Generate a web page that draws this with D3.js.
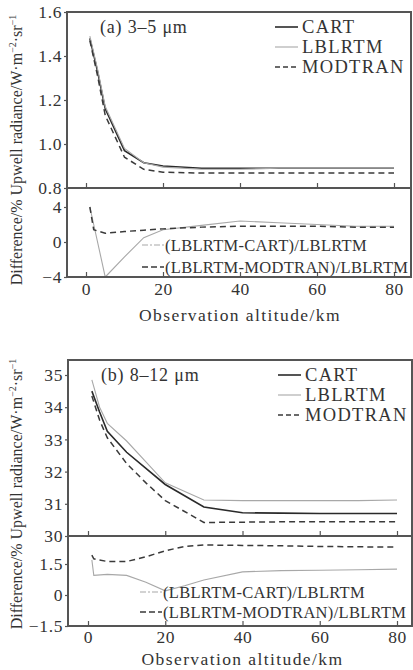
<!DOCTYPE html>
<html><head><meta charset="utf-8">
<script src="https://cdn.jsdelivr.net/npm/d3@7/dist/d3.min.js"></script>
<style>
body{margin:0;background:#fff}
svg{display:block}
text{font-family:"Liberation Serif","Times New Roman",serif;fill:#333}
</style>
</head><body>
<svg id="c" width="413" height="670"></svg>
<script>
// ---------- Data ----------
const seriesNames = ["CART", "LBLRTM", "MODTRAN"];
const diffNames = ["(LBLRTM-CART)/LBLRTM", "(LBLRTM-MODTRAN)/LBLRTM"];

// Panel (a) 3–5 µm, upwell radiance
const altA  = [1, 3, 5, 10, 15, 20, 30, 40, 50, 60, 70, 80];
const cartA = [1.48, 1.33, 1.16, 0.97, 0.915, 0.90, 0.89, 0.89, 0.89, 0.89, 0.89, 0.89];
const lblA  = [1.49, 1.34, 1.17, 0.98, 0.915, 0.895, 0.885, 0.885, 0.89, 0.89, 0.89, 0.89];
const modA  = [1.47, 1.31, 1.13, 0.94, 0.885, 0.872, 0.868, 0.868, 0.868, 0.868, 0.868, 0.868];
// Panel (a) differences (%)
const altDiffA  = [1, 2, 5, 10, 15, 20, 30, 40, 50, 60, 70, 80];
const diffCartA = [4, 2, -4, -1.7, 0.5, 1.4, 1.9, 2.4, 2.2, 2.0, 1.8, 1.8];
const diffModA  = [4, 1.4, 1.0, 1.2, 1.35, 1.5, 1.7, 1.8, 1.8, 1.8, 1.7, 1.7];

// Panel (b) 8–12 µm, upwell radiance
const altB  = [1, 3, 5, 10, 15, 20, 30, 40, 50, 60, 70, 80];
const cartB = [34.5, 33.85, 33.25, 32.6, 32.1, 31.6, 30.9, 30.72, 30.71, 30.7, 30.7, 30.7];
const lblB  = [34.85, 34.0, 33.5, 32.95, 32.3, 31.65, 31.12, 31.1, 31.1, 31.1, 31.1, 31.12];
const modB  = [34.35, 33.6, 33.05, 32.25, 31.65, 31.1, 30.42, 30.43, 30.44, 30.44, 30.44, 30.44];
// Panel (b) differences (%)
const altDiffB  = [1, 1.5, 5, 10, 15, 20, 25, 30, 40, 50, 60, 70, 80];
const diffCartB = [1.7, 0.95, 1.0, 0.95, 0.62, 0.2, 0.45, 0.73, 1.12, 1.18, 1.2, 1.22, 1.25];
const diffModB  = [1.93, 1.75, 1.62, 1.62, 1.85, 2.14, 2.35, 2.42, 2.4, 2.38, 2.35, 2.33, 2.32];

// Tick values
const xTicks = [0, 20, 40, 60, 80];
const yTicksTopA = [0.8, 1.0, 1.2, 1.4, 1.6];
const yTicksDiffA = [-4, 0, 4];
const yTicksTopB = [30, 31, 32, 33, 34, 35];
const yTicksDiffB = [-1.5, 0, 1.5];

const panelLabels = ["(a) 3–5 μm", "(b) 8–12 μm"];
const xTitle = "Observation altitude/km";

// ---------- Layout ----------
const svg = d3.select("#c");
const frameColor = "#555";
const ink = "#333";

const panels = [
  { label: panelLabels[0], alt: altA, top: [cartA, lblA, modA], dAlt: altDiffA, diff: [diffCartA, diffModA],
    yT: yTicksTopA, yD: yTicksDiffA, fmtT: d3.format(".1f"),
    L: 67, R: 411, T: 12, M: 188, B: 277, x0: 86, x80: 394,
    topDom: [0.8, 1.6], topRng: [188, 12], diffDom: [-4, 4], diffRng: [277, 207],
    legY: [27, 47, 67], legX: 275, dlegY: [245, 267], dlegX: 142, tickPad: 6, titleY: 321, ytC: 150 },
  { label: panelLabels[1], alt: altB, top: [cartB, lblB, modB], dAlt: altDiffB, diff: [diffCartB, diffModB],
    yT: yTicksTopB, yD: yTicksDiffB, fmtT: d3.format("d"),
    L: 68, R: 412, T: 360, M: 536, B: 626, x0: 88, x80: 397,
    topDom: [30, 35], topRng: [536, 375], diffDom: [-1.5, 1.5], diffRng: [626, 564],
    legY: [375, 395, 415], legX: 278, dlegY: [592, 612], dlegX: 140, tickPad: 5, titleY: 665, ytC: 494 }
];

const styles = [
  { stroke: "#2a2a2a", width: 1.6, dash: null },
  { stroke: "#a8a8a8", width: 1.1, dash: null },
  { stroke: "#3a3a3a", width: 1.5, dash: "6,4" }
];
const dStyles = [
  { stroke: "#a8a8a8", width: 1.1, dash: null, legDash: "6,2,2,2" },
  { stroke: "#3a3a3a", width: 1.5, dash: "6,4", legDash: "6,3" }
];

const fmtDiff = d => d === 0 ? "0" : (d < 0 ? "\u2212" + Math.abs(d) : String(d));

panels.forEach(p => {
  const g = svg.append("g");
  const x = d3.scaleLinear().domain([0, 80]).range([p.x0, p.x80]);
  const yT = d3.scaleLinear().domain(p.topDom).range(p.topRng);
  const yD = d3.scaleLinear().domain(p.diffDom).range(p.diffRng);

  // data lines (top)
  p.top.forEach((vals, i) => {
    const s = styles[i];
    const line = d3.line().x((d, k) => x(p.alt[k])).y(d => yT(d));
    g.append("path").datum(vals).attr("d", line)
      .attr("fill", "none").attr("stroke", s.stroke).attr("stroke-width", s.width)
      .attr("stroke-dasharray", s.dash);
  });
  // data lines (diff)
  p.diff.forEach((vals, i) => {
    const s = dStyles[i];
    const line = d3.line().x((d, k) => x(p.dAlt[k])).y(d => yD(d));
    g.append("path").datum(vals).attr("d", line)
      .attr("fill", "none").attr("stroke", s.stroke).attr("stroke-width", s.width)
      .attr("stroke-dasharray", s.dash);
  });

  // frame
  g.append("rect").attr("x", p.L).attr("y", p.T).attr("width", p.R - p.L).attr("height", p.B - p.T)
    .attr("fill", "none").attr("stroke", frameColor).attr("stroke-width", 2);
  g.append("line").attr("x1", p.L).attr("x2", p.R).attr("y1", p.M).attr("y2", p.M)
    .attr("stroke", frameColor).attr("stroke-width", 2);

  // y axes
  const ayT = g.append("g").attr("transform", `translate(${p.L},0)`)
    .call(d3.axisLeft(yT).tickValues(p.yT).tickFormat(p.fmtT).tickSize(3).tickPadding(2));
  const ayD = g.append("g").attr("transform", `translate(${p.L},0)`)
    .call(d3.axisLeft(yD).tickValues(p.yD).tickFormat(fmtDiff).tickSize(3).tickPadding(2));
  // x axes
  const axM = g.append("g").attr("transform", `translate(0,${p.M})`)
    .call(d3.axisBottom(x).tickValues(xTicks).tickFormat("").tickSize(-5));
  const axB = g.append("g").attr("transform", `translate(0,${p.B})`)
    .call(d3.axisBottom(x).tickValues(xTicks).tickSize(-5).tickPadding(p.tickPad));
  [ayT, ayD, axM, axB].forEach(a => {
    a.select(".domain").remove();
    a.selectAll("line").attr("stroke", frameColor).attr("stroke-width", 1.2);
    a.selectAll("text").attr("font-family", "Liberation Serif").attr("font-size", 17.5)
      .attr("letter-spacing", 0.6).attr("fill", ink);
  });

  // panel label
  g.append("text").attr("x", p.L + 33).attr("y", p.legY[0] + 6).attr("font-size", 18)
    .attr("letter-spacing", 0.8).text(p.label);

  // top legend
  seriesNames.forEach((n, i) => {
    const s = styles[i];
    g.append("line").attr("x1", p.legX).attr("x2", p.legX + 23).attr("y1", p.legY[i]).attr("y2", p.legY[i])
      .attr("stroke", s.stroke).attr("stroke-width", s.width).attr("stroke-dasharray", s.dash ? "5,3" : null);
    g.append("text").attr("x", p.legX + 27).attr("y", p.legY[i] + 6).attr("font-size", 18.5)
      .attr("letter-spacing", 1.3).text(n);
  });

  // diff legend
  diffNames.forEach((n, i) => {
    const s = dStyles[i];
    g.append("line").attr("x1", p.dlegX).attr("x2", p.dlegX + 22).attr("y1", p.dlegY[i]).attr("y2", p.dlegY[i])
      .attr("stroke", s.stroke).attr("stroke-width", s.width).attr("stroke-dasharray", s.legDash);
    g.append("text").attr("x", p.dlegX + 23).attr("y", p.dlegY[i] + 5.5).attr("font-size", 16.5)
      .attr("letter-spacing", 0.3).text(n);
  });

  // x title
  g.append("text").attr("x", (p.x0 + p.x80) / 2).attr("y", p.titleY).attr("text-anchor", "middle")
    .attr("font-size", 17.5).attr("letter-spacing", 1.4).text(xTitle);

  // y title
  const yt = g.append("text").attr("transform", `translate(22,${p.ytC}) rotate(-90)`)
    .attr("text-anchor", "middle").attr("font-size", 16);
  yt.append("tspan").text("Difference/%  Upwell radiance/W·m");
  yt.append("tspan").attr("dy", -6).attr("font-size", 10).text("−2");
  yt.append("tspan").attr("dy", 6).text("·sr");
  yt.append("tspan").attr("dy", -6).attr("font-size", 10).text("−1");
});
</script>
</body></html>
